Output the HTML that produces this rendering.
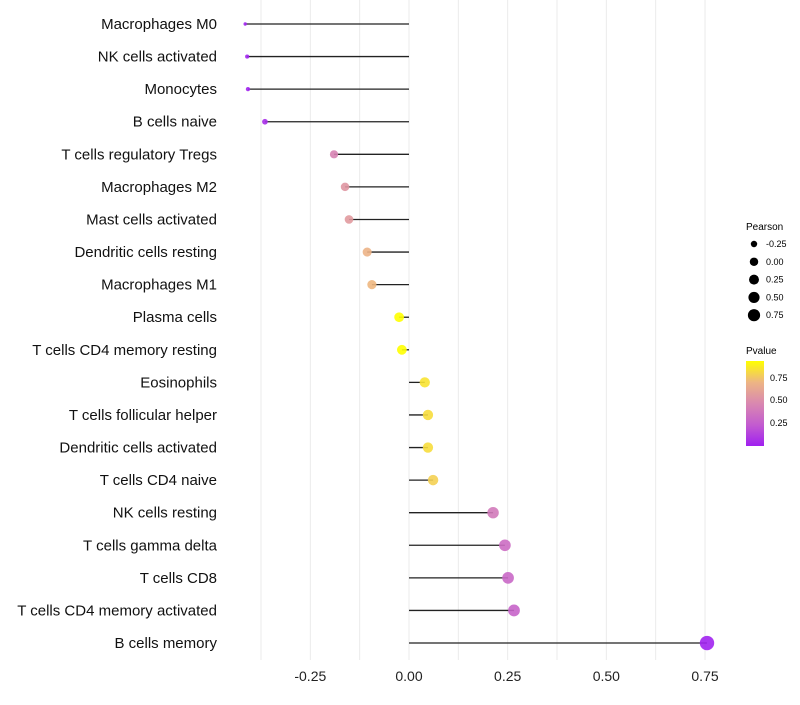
<!DOCTYPE html>
<html><head><meta charset="utf-8"><style>
body{margin:0;background:#fff;font-family:"Liberation Sans",sans-serif}
</style></head><body>
<svg id="chart" width="800" height="700" xmlns="http://www.w3.org/2000/svg" font-family="Liberation Sans, sans-serif">
<defs><linearGradient id="pg" x1="0" y1="1" x2="0" y2="0">
<stop offset="0" stop-color="#a020f0"/><stop offset="0.25" stop-color="#c35ccf"/><stop offset="0.5" stop-color="#d988b0"/><stop offset="0.75" stop-color="#edb584"/><stop offset="1" stop-color="#ffff00"/>
</linearGradient></defs>
<g id="grid"></g><g id="marks"></g><g id="labels"></g>
<g id="legend">
<text x="746" y="230" font-size="10">Pearson</text>
<text x="746" y="354" font-size="10">Pvalue</text>
<rect x="746" y="361" width="18" height="85" fill="url(#pg)"/>
<text x="770" y="381" font-size="9">0.75</text>
<text x="770" y="403" font-size="9">0.50</text>
<text x="770" y="426" font-size="9">0.25</text>
</g>
</svg>
<script>
const categories=["Macrophages M0","NK cells activated","Monocytes","B cells naive","T cells regulatory  Tregs","Macrophages M2","Mast cells activated","Dendritic cells resting","Macrophages M1","Plasma cells","T cells CD4 memory resting","Eosinophils","T cells follicular helper","Dendritic cells activated","T cells CD4 naive","NK cells resting","T cells gamma delta","T cells CD8","T cells CD4 memory activated","B cells memory"];
const pearson=[-0.415,-0.41,-0.408,-0.365,-0.19,-0.162,-0.152,-0.106,-0.094,-0.025,-0.018,0.04,0.048,0.048,0.061,0.213,0.243,0.251,0.266,0.755];
const pvalue=[0.01,0.01,0.01,0.05,0.45,0.55,0.57,0.7,0.72,0.96,0.96,0.86,0.84,0.84,0.8,0.4,0.33,0.3,0.28,0.01];
const xTicks=[-0.25,0,0.25,0.5,0.75];
const xTickLabels=["-0.25","0.00","0.25","0.50","0.75"];
const sizeLegend=[-0.25,0,0.25,0.5,0.75];
const NS="http://www.w3.org/2000/svg";
const x=v=>409+v*394.7;
const y=i=>24+i*32.58;
const vmin=-0.415,vmax=0.755;
const r=v=>1.7+5.5*Math.sqrt(Math.max(0,(v-vmin)/(vmax-vmin)));
const stops=[[0,[160,32,240]],[0.25,[195,92,207]],[0.5,[217,136,176]],[0.75,[237,181,132]],[1,[255,255,0]]];
function col(p){p=Math.max(0,Math.min(1,p/0.95));for(let k=1;k<stops.length;k++){if(p<=stops[k][0]){const a=stops[k-1],b=stops[k],t=(p-a[0])/(b[0]-a[0]);return 'rgb('+a[1].map((c,j)=>Math.round(c+(b[1][j]-c)*t)).join(',')+')';}}return 'rgb(255,255,0)';}
function mk(t,a,parent){const e=document.createElementNS(NS,t);for(const k in a)e.setAttribute(k,a[k]);parent.appendChild(e);return e;}
const grid=document.getElementById('grid'),marks=document.getElementById('marks'),labels=document.getElementById('labels'),legend=document.getElementById('legend');
for(let v=-0.375;v<=0.8;v+=0.125){const g=mk('line',{x1:x(v),x2:x(v),y1:0,y2:660,stroke:'#ebebeb','stroke-width':1},grid);

}
xTicks.forEach((v,i)=>{const t=mk('text',{x:x(v),y:681,'font-size':14,'text-anchor':'middle',fill:'#222'},labels);t.textContent=xTickLabels[i];

});
categories.forEach((c,i)=>{
const t=mk('text',{x:217,y:y(i)+5,'font-size':15,'text-anchor':'end',fill:'#111'},labels);t.textContent=c;


const l=mk('line',{x1:x(0),x2:x(pearson[i]),y1:y(i),y2:y(i),stroke:'#222','stroke-width':1.3},marks);


const d=mk('circle',{cx:x(pearson[i]),cy:y(i),r:r(pearson[i]),fill:col(pvalue[i]),'fill-opacity':0.9},marks);


});
sizeLegend.forEach((v,i)=>{const cy=244+i*17.8;
const d=mk('circle',{cx:754,cy:cy,r:r(v)*0.85,fill:'#000'},legend);


const t=mk('text',{x:766,y:cy+3,'font-size':9},legend);t.textContent=xTickLabels[i];

});
</script>
</body></html>
